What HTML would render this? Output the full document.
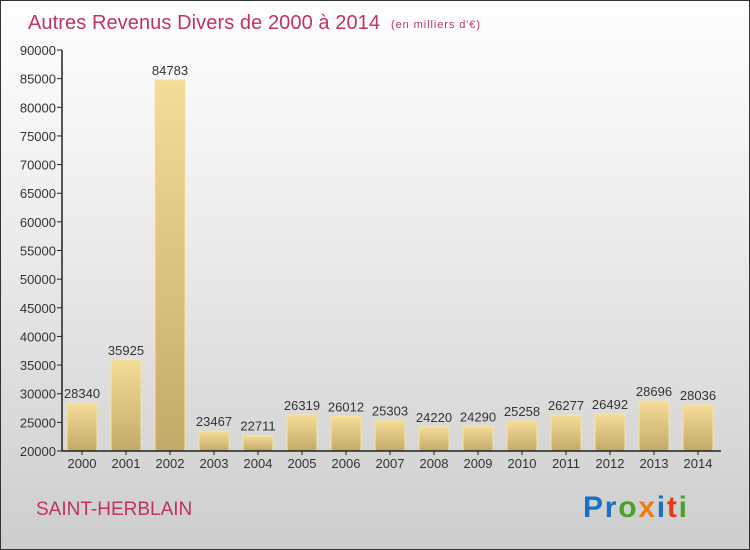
<!DOCTYPE html>
<html><head><meta charset="utf-8"><style>
body{margin:0}
#c{width:748px;height:548px;border:1px solid #333;background:linear-gradient(#fefefe,#f2f2f2 30%,#d8d8d8 80%,#cdcdcd);position:relative;font-family:"Liberation Sans",sans-serif;overflow:hidden}
</style></head><body>
<div id="c">
<svg width="748" height="548" id="svg">
<defs><linearGradient id="g" x1="0" y1="0" x2="0" y2="1"><stop offset="0" stop-color="#f4dd98"/><stop offset="1" stop-color="#c4aa68"/></linearGradient></defs>
<text x="27" y="28" font-size="20" textLength="352" fill="#c0335e">Autres Revenus Divers de 2000 à 2014</text>
<text x="390" y="27" font-size="11" textLength="89" fill="#c0335e">(en milliers d'€)</text>
<text x="35" y="514" font-size="19" fill="#c0335e">SAINT-HERBLAIN</text>
<text x="582" y="516" font-size="30" font-weight="bold" textLength="104"><tspan fill="#1a6fc8">Pr</tspan><tspan fill="#4aa02c">o</tspan><tspan fill="#f07d10">x</tspan><tspan fill="#1a6fc8">i</tspan><tspan fill="#e23a1a">t</tspan><tspan fill="#4aa02c">i</tspan></text>
<g id="plot"></g>
</svg></div>
<script>
const years=["2000","2001","2002","2003","2004","2005","2006","2007","2008","2009","2010","2011","2012","2013","2014"];
const values=[28340,35925,84783,23467,22711,26319,26012,25303,24220,24290,25258,26277,26492,28696,28036];
const ticks=[20000,25000,30000,35000,40000,45000,50000,55000,60000,65000,70000,75000,80000,85000,90000];
const ns="http://www.w3.org/2000/svg";
const g=document.getElementById('plot');
const y=v=>450-(v-20000)/70000*401;
const x=i=>81+i*44;
function mk(t,a,txt){const e=document.createElementNS(ns,t);for(const k in a)e.setAttribute(k,a[k]);if(txt!=null)e.textContent=txt;g.appendChild(e);return e;}
ticks.forEach(t=>{
 const l=mk('line',{x1:56,x2:61,y1:y(t),y2:y(t),stroke:'#222'});
 
 
 const tx=mk('text',{x:55,y:y(t)+5,'font-size':13,'text-anchor':'end',fill:'#333'},t);
 
 
});
years.forEach((yr,i)=>{
 const v=values[i],top=y(v);
 const b=mk('rect',{x:x(i)-15,y:top,width:30,height:450-top,fill:'url(#g)',stroke:'#f6e4a8','stroke-width':1});
 
 
 const vl=mk('text',{x:x(i),y:top-5,'font-size':13,'text-anchor':'middle',fill:'#333'},v);
 
 
 const xl=mk('text',{x:x(i),y:467,'font-size':13,'text-anchor':'middle',fill:'#333'},yr);
 
 
 const tk=mk('line',{x1:x(i),x2:x(i),y1:450,y2:454,stroke:'#222'});
 
 
});
const ya=mk('line',{x1:61,x2:61,y1:49,y2:450,stroke:'#222','stroke-width':1.5});


const xa=mk('line',{x1:61,x2:720,y1:450,y2:450,stroke:'#222','stroke-width':1.5});


</script>
</body></html>
